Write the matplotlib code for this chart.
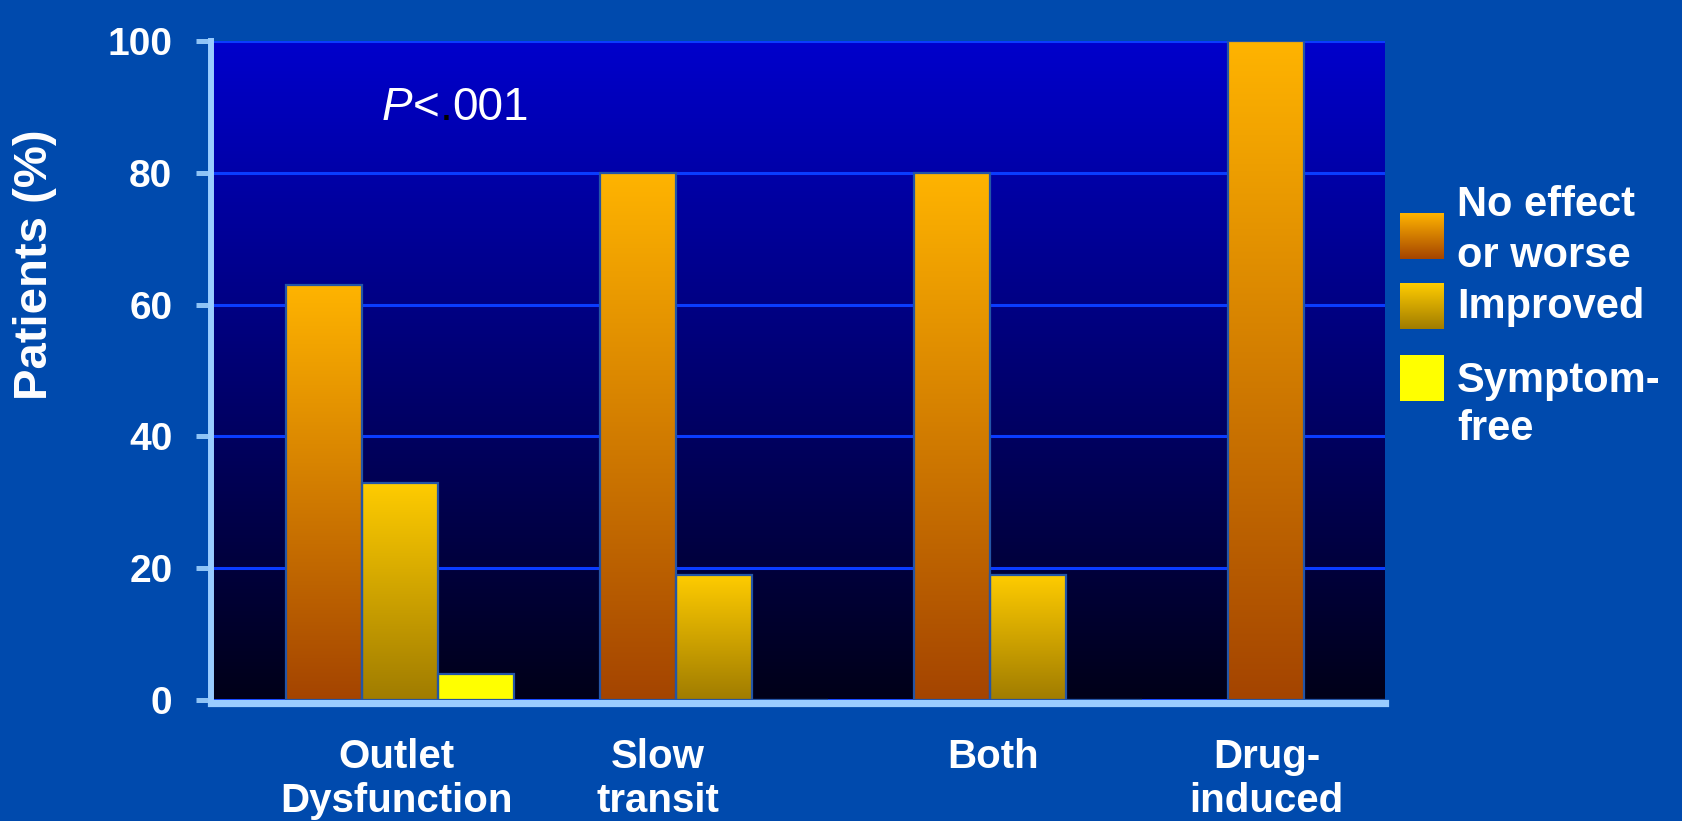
import numpy as np
import matplotlib.pyplot as plt
from matplotlib.colors import LinearSegmentedColormap

# 便秘タイプ別の治療結果
categories = ['Outlet\nDysfunction', 'Slow\ntransit', 'Both', 'Drug-\ninduced']
label_x = [-0.01, 0.82, 1.89, 2.76]        # カテゴリ名の位置
series_names = [['No effect', 'or worse'], ['Improved'], ['Symptom-', 'free']]
no_effect = [63, 80, 80, 100]
improved = [33, 19, 19, 0]
symptom_free = [4, 0, 0, 0]
yticks = [0, 20, 40, 60, 80, 100]

# 色
BG = '#004aad'
AXIS = '#99ccff'
grad_colors = [('#a44400', '#ffb400'), ('#a07c00', '#ffcc00'), ('#ffff00', '#ffff00')]

plt.rcParams['font.family'] = ['Liberation Sans', 'DejaVu Sans']

W, H = 1682, 821
fig = plt.figure(figsize=(W / 100, H / 100), dpi=100, facecolor=BG)
ax = fig.add_axes([211 / W, 1 - 700 / H, (1385 - 211) / W, (700 - 41) / H])

grad = np.linspace(1, 0, 256).reshape(-1, 1)

# 背景グラデーション
bg_cmap = LinearSegmentedColormap.from_list('bg', ['#000018', '#0000cc'])
ax.imshow(grad, cmap=bg_cmap, extent=[0, 1, 0, 1], transform=ax.transAxes,
          aspect='auto', zorder=0)

# 棒グラフ（棒ごとにグラデーション）
w = 0.242
x = np.arange(len(categories))
for j, vals in enumerate([no_effect, improved, symptom_free]):
    cmap = LinearSegmentedColormap.from_list('s%d' % j, grad_colors[j])
    bars = ax.bar(x + (j - 1) * w, vals, width=w, facecolor='none',
                  edgecolor='#2455a6', linewidth=1.6, zorder=3)
    for b in bars:
        h = b.get_height()
        if h <= 0:
            continue
        bx = b.get_x()
        ax.imshow(grad, cmap=cmap, extent=[bx, bx + w, 0, h], aspect='auto', zorder=2)

ax.set_xlim(-0.602, 3.137)
ax.set_ylim(0, 100)

# 軸
ax.set_axisbelow(True)
ax.yaxis.grid(True, color='#0a3cff', linewidth=2.2)
ax.spines['top'].set_visible(False)
ax.spines['right'].set_visible(False)
ax.spines['left'].set_color(AXIS)
ax.spines['left'].set_linewidth(4.3)
ax.spines['bottom'].set_color(AXIS)
ax.spines['bottom'].set_linewidth(5.2)
ax.spines['bottom'].set_position(('outward', 2))

ax.set_yticks(yticks)
ax.tick_params(axis='y', length=10.8, width=3.6, color='#8fc3f5', pad=17,
               labelsize=28, labelcolor='white')
for lbl in ax.get_yticklabels():
    lbl.set_fontweight('bold')
ax.set_xticks(label_x, categories, fontsize=29, fontweight='bold', color='white',
              linespacing=1.2)
ax.tick_params(axis='x', length=0, pad=25)

fig.text(35 / W, 1 - 265 / H, 'Patients (%)', rotation=90, ha='center', va='center',
         fontsize=34, fontweight='bold', color='white')

# 凡例とP値（ピクセル座標）
ov = fig.add_axes([0, 0, 1, 1], zorder=5)
ov.axis('off')

sw_top = [213, 283, 355]
text_base = [[216, 267], [318], [392, 440]]
for j in range(3):
    cmap = LinearSegmentedColormap.from_list('l%d' % j, grad_colors[j])
    ov.imshow(grad, cmap=cmap, extent=[1400, 1444, sw_top[j] + 46, sw_top[j]],
              aspect='auto')
    for line, yb in zip(series_names[j], text_base[j]):
        ov.text(1457, yb, line, va='baseline', ha='left', fontsize=30,
                fontweight='bold', color='white')
ov.set_xlim(0, W)
ov.set_ylim(H, 0)

t = ov.text(382, 120, 'P', fontsize=33, style='italic', color='white', va='baseline')
t = ov.annotate('<', xy=(1, 0), xycoords=t, va='bottom', fontsize=33, color='white')
t = ov.annotate('.', xy=(1, 0), xycoords=t, va='bottom', fontsize=33, color='black')
t = ov.annotate('001', xy=(1, 0), xycoords=t, va='bottom', fontsize=33, color='white')

fig.savefig('out.png', dpi=100, facecolor=BG)
